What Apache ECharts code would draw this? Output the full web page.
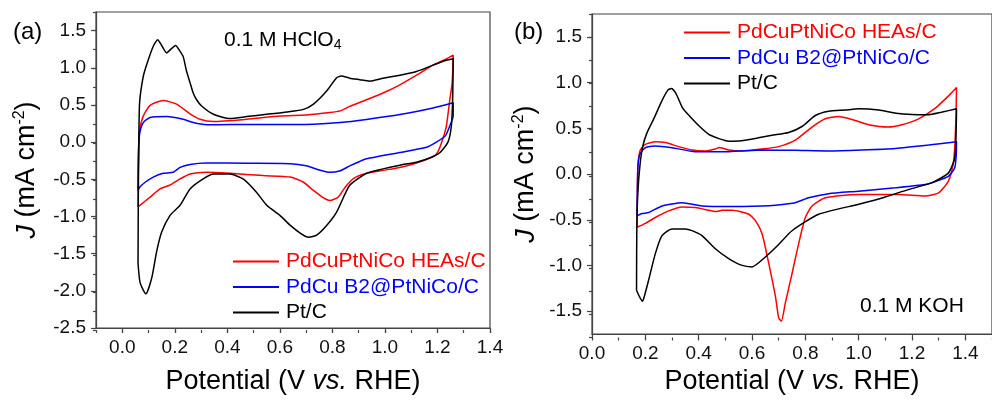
<!DOCTYPE html>
<html>
<head>
<meta charset="utf-8">
<script src="https://cdn.jsdelivr.net/npm/echarts@6/dist/echarts.min.js"></script>
<style>
html, body { margin: 0; padding: 0; background: #fff; }
#chart { width: 992px; height: 400px; }
</style>
</head>
<body>
<div id="chart"></div>
<script>
const seriesNames = ['PdCuPtNiCo HEAs/C', 'PdCu B2@PtNiCo/C', 'Pt/C'];

// (a) 0.1 M HClO4, [potential V, J mA cm-2]
const heaAcid = [
    [0.060, -0.873], [0.061, -0.4], [0.063, 0.0], [0.067, 0.174], [0.080, 0.35], [0.106, 0.495],
    [0.156, 0.56], [0.207, 0.51], [0.258, 0.38], [0.296, 0.307], [0.347, 0.277], [0.474, 0.307],
    [0.60, 0.35], [0.70, 0.365], [0.79, 0.397], [0.83, 0.42], [0.866, 0.48], [0.93, 0.57],
    [0.993, 0.66], [1.057, 0.77], [1.12, 0.90], [1.183, 1.035], [1.234, 1.12], [1.26, 1.17],
    [1.256, 0.80], [1.247, 0.57], [1.234, 0.22], [1.22, 0.04], [1.20, -0.14], [1.18, -0.20],
    [1.12, -0.28], [1.057, -0.34], [0.993, -0.38], [0.93, -0.42], [0.88, -0.49], [0.85, -0.6],
    [0.822, -0.74], [0.79, -0.785], [0.766, -0.75], [0.728, -0.65], [0.69, -0.54], [0.64, -0.47],
    [0.537, -0.45], [0.41, -0.42], [0.32, -0.405], [0.258, -0.428], [0.22, -0.495], [0.18, -0.58],
    [0.144, -0.63], [0.106, -0.74], [0.067, -0.85], [0.060, -0.873]
];
const b2Acid = [
    [0.060, -0.65], [0.061, -0.3], [0.0625, -0.05], [0.067, 0.13], [0.080, 0.263], [0.106, 0.33],
    [0.169, 0.343], [0.232, 0.307], [0.27, 0.263], [0.321, 0.235], [0.36, 0.235], [0.474, 0.237],
    [0.6, 0.237], [0.728, 0.24], [0.83, 0.263], [0.93, 0.305], [1.057, 0.37], [1.183, 0.46],
    [1.26, 0.53], [1.26, 0.35], [1.247, 0.22], [1.23, 0.084], [1.196, 0.0], [1.158, -0.07],
    [1.057, -0.14], [0.93, -0.225], [0.904, -0.26], [0.866, -0.32], [0.83, -0.384], [0.79, -0.405],
    [0.75, -0.374], [0.70, -0.317], [0.64, -0.29], [0.474, -0.285], [0.32, -0.28], [0.258, -0.30],
    [0.22, -0.34], [0.194, -0.405], [0.156, -0.42], [0.118, -0.47], [0.087, -0.54], [0.067, -0.605],
    [0.060, -0.65]
];
const ptAcid = [
    [0.060, -1.63], [0.061, -0.8], [0.063, 0.0], [0.066, 0.53], [0.080, 0.886], [0.095, 1.065],
    [0.118, 1.29], [0.135, 1.377], [0.150, 1.30], [0.169, 1.20], [0.185, 1.25], [0.203, 1.30],
    [0.220, 1.22], [0.232, 1.15], [0.245, 0.95], [0.258, 0.80], [0.27, 0.66], [0.283, 0.57],
    [0.302, 0.485], [0.347, 0.374], [0.41, 0.317], [0.474, 0.343], [0.55, 0.374], [0.626, 0.405],
    [0.69, 0.44], [0.728, 0.51], [0.778, 0.686], [0.816, 0.865], [0.834, 0.89], [0.866, 0.86],
    [0.904, 0.84], [0.942, 0.82], [0.993, 0.86], [1.057, 0.90], [1.12, 0.95], [1.183, 1.035],
    [1.234, 1.10], [1.26, 1.12], [1.258, 0.6], [1.253, 0.22], [1.24, 0.0], [1.21, -0.14],
    [1.18, -0.20], [1.12, -0.27], [1.057, -0.31], [0.993, -0.36], [0.93, -0.42], [0.866, -0.58],
    [0.816, -0.94], [0.778, -1.12], [0.74, -1.25], [0.71, -1.28], [0.68, -1.23], [0.64, -1.12],
    [0.60, -0.985], [0.55, -0.85], [0.51, -0.67], [0.46, -0.495], [0.41, -0.43], [0.347, -0.43],
    [0.308, -0.495], [0.258, -0.63], [0.22, -0.85], [0.182, -0.985], [0.15, -1.21], [0.131, -1.47],
    [0.112, -1.83], [0.09, -2.04], [0.08, -1.99], [0.067, -1.875], [0.060, -1.63]
];

// (b) 0.1 M KOH
const heaBase = [
    [0.169, -0.583], [0.170, -0.2], [0.1725, 0.10], [0.181, 0.263], [0.2, 0.324], [0.2375, 0.353],
    [0.275, 0.345], [0.325, 0.30], [0.375, 0.263], [0.425, 0.252], [0.4625, 0.273], [0.476, 0.29],
    [0.4875, 0.285], [0.5125, 0.263], [0.5625, 0.252], [0.6375, 0.273], [0.70, 0.30], [0.7625, 0.37],
    [0.825, 0.514], [0.875, 0.604], [0.925, 0.63], [0.975, 0.597], [1.0375, 0.54], [1.11, 0.515],
    [1.1625, 0.54], [1.225, 0.604], [1.2875, 0.72], [1.3375, 0.856], [1.367, 0.946], [1.365, 0.64],
    [1.36, 0.28], [1.354, 0.10], [1.336, -0.08], [1.30, -0.205], [1.249, -0.24], [1.149, -0.223],
    [1.0, -0.223], [0.875, -0.26], [0.825, -0.35], [0.80, -0.475], [0.775, -0.76], [0.75, -1.09],
    [0.725, -1.41], [0.71, -1.61], [0.70, -1.57], [0.688, -1.34], [0.663, -0.98], [0.638, -0.655],
    [0.613, -0.51], [0.588, -0.44], [0.526, -0.396], [0.488, -0.396], [0.464, -0.41], [0.4375, -0.396],
    [0.3875, -0.367], [0.3375, -0.36], [0.2875, -0.403], [0.2375, -0.475], [0.2, -0.54], [0.169, -0.583]
];
const b2Base = [
    [0.169, -0.457], [0.170, -0.2], [0.1725, 0.1], [0.181, 0.227], [0.2, 0.288], [0.2375, 0.306],
    [0.3, 0.288], [0.3875, 0.245], [0.5125, 0.245], [0.6375, 0.263], [0.7625, 0.259], [0.8875, 0.252],
    [1.0125, 0.263], [1.1375, 0.28], [1.2625, 0.317], [1.367, 0.353], [1.366, 0.21], [1.36, 0.065],
    [1.336, -0.025], [1.29, -0.08], [1.249, -0.115], [1.1375, -0.15], [1.0, -0.187], [0.8875, -0.215],
    [0.812, -0.26], [0.7625, -0.313], [0.688, -0.34], [0.6375, -0.349], [0.5125, -0.356], [0.4125, -0.349],
    [0.3375, -0.313], [0.2625, -0.349], [0.2125, -0.421], [0.1875, -0.432], [0.169, -0.457]
];
const ptBase = [
    [0.167, -1.27], [0.168, -0.6], [0.172, -0.2], [0.18, 0.1], [0.19, 0.3], [0.206, 0.45],
    [0.231, 0.6], [0.262, 0.8], [0.285, 0.92], [0.298, 0.936], [0.315, 0.88], [0.34, 0.72],
    [0.364, 0.64], [0.40, 0.53], [0.44, 0.43], [0.513, 0.36], [0.56, 0.365], [0.624, 0.396],
    [0.675, 0.424], [0.7375, 0.455], [0.7875, 0.52], [0.8375, 0.64], [0.8875, 0.687], [0.95, 0.70],
    [1.0, 0.713], [1.075, 0.70], [1.14, 0.665], [1.2, 0.65], [1.26, 0.648], [1.31, 0.676],
    [1.367, 0.713], [1.365, 0.4], [1.36, 0.17], [1.336, 0.01], [1.273, -0.097], [1.186, -0.17],
    [1.1, -0.25], [1.0, -0.33], [0.85, -0.44], [0.75, -0.62], [0.7, -0.77], [0.65, -0.907],
    [0.6, -1.015], [0.56, -0.996], [0.5125, -0.924], [0.4625, -0.817], [0.4125, -0.673], [0.375, -0.619],
    [0.35, -0.60], [0.3, -0.6], [0.2625, -0.673], [0.2375, -0.87], [0.2125, -1.158], [0.194, -1.36],
    [0.189, -1.39], [0.178, -1.34], [0.167, -1.27]
];

const font = '"Liberation Sans", Arial, sans-serif';
const colors = ['#ff0000', '#0000ff', '#000000'];
const chart = echarts.init(document.getElementById('chart'));

const gridA = { left: 96, top: 12, width: 394, height: 318 };
const gridB = { left: 592, top: 14, width: 401, height: 323.5 };

function mainAxis(gridIndex, opts, showMin, showMax) {
    return Object.assign({
        type: 'value',
        gridIndex: gridIndex,
        axisLine: { show: true, onZero: false, lineStyle: { color: '#444', width: 1.2 } },
        axisTick: { show: true, length: 5, lineStyle: { color: '#444', width: 1.2 } },
        axisLabel: {
            color: '#111', fontSize: 19, fontFamily: font, margin: 10,
            showMinLabel: showMin, showMaxLabel: showMax,
            formatter: v => v.toFixed(1)
        },
        splitLine: { show: false }
    }, opts);
}

function minorAxis(gridIndex, opts) {
    return Object.assign({
        type: 'value',
        gridIndex: gridIndex,
        axisLine: { show: false, onZero: false },
        axisTick: { show: true, length: 3, lineStyle: { color: '#444', width: 1.2 } },
        axisLabel: { show: false },
        splitLine: { show: false }
    }, opts);
}

const xNameStyle = {
    fontSize: 27, fontFamily: font, color: '#000',
    rich: { i: { fontSize: 27, fontFamily: font, fontStyle: 'italic', color: '#000' } }
};
const yNameStyle = {
    fontSize: 27, fontFamily: font, color: '#000', lineHeight: 30,
    rich: {
        i: { fontSize: 27, fontFamily: font, fontStyle: 'italic', color: '#000', lineHeight: 30 },
        s: { fontSize: 16, fontFamily: font, color: '#000', verticalAlign: 'top', lineHeight: 16 }
    }
};

function cvSeries(name, idx, data, axisIdx) {
    return {
        name: name,
        type: 'line',
        data: data,
        xAxisIndex: axisIdx,
        yAxisIndex: axisIdx,
        showSymbol: false,
        smooth: 0.2,
        lineStyle: { color: colors[idx], width: 1.5 },
        itemStyle: { color: colors[idx] }
    };
}

function legendFor(left, top) {
    return {
        orient: 'vertical',
        left: left,
        top: top,
        padding: 0,
        icon: 'rect',
        itemWidth: 46,
        itemHeight: 2,
        itemGap: 4.5,
        selectedMode: false,
        textStyle: { fontSize: 21, fontFamily: font, padding: [0, 0, 0, 2] },
        data: seriesNames.map((n, i) => ({ name: n, textStyle: { color: colors[i] } }))
    };
}

const option = {
    animation: false,
    backgroundColor: '#fff',
    grid: [
        Object.assign({ show: true, borderColor: '#444', borderWidth: 1.2 }, gridA),
        Object.assign({ show: true, borderColor: '#444', borderWidth: 1.2 }, gridB),
        Object.assign({}, gridA),
        Object.assign({}, gridB)
    ],
    xAxis: [
        mainAxis(0, {
            min: -0.1, max: 1.4, splitNumber: 7,
            name: 'Potential (V {i|vs.} RHE)', nameLocation: 'middle', nameGap: 40, nameTextStyle: xNameStyle
        }, false, true),
        mainAxis(1, {
            min: 0, max: 1.5, interval: 0.2,
            name: 'Potential (V {i|vs.} RHE)', nameLocation: 'middle', nameGap: 33, nameTextStyle: xNameStyle
        }, true, false),
        minorAxis(2, { min: -0.1, max: 1.4, interval: 0.1 }),
        minorAxis(3, { min: 0, max: 1.5, interval: 0.1 })
    ],
    yAxis: [
        mainAxis(0, {
            min: -2.5, max: 1.75, interval: 0.5,
            name: '{i|J} (mA cm{s|-2})', nameLocation: 'middle', nameGap: 54, nameTextStyle: yNameStyle
        }, true, false),
        mainAxis(1, {
            min: -1.75, max: 1.75, splitNumber: 7,
            name: '{i|J} (mA cm{s|-2})', nameLocation: 'middle', nameGap: 51, nameTextStyle: yNameStyle
        }, false, false),
        minorAxis(2, { min: -2.5, max: 1.75, interval: 0.25 }),
        minorAxis(3, { min: -1.75, max: 1.75, interval: 0.25 })
    ],
    legend: [legendFor(233, 251), legendFor(684, 22)],
    graphic: [
        { type: 'text', left: 13, top: 20, style: { text: '(a)', fontSize: 24, fontFamily: font, fill: '#000' } },
        { type: 'text', left: 514, top: 20, style: { text: '(b)', fontSize: 24, fontFamily: font, fill: '#000' } },
        {
            type: 'text', left: 224, top: 30,
            style: {
                text: '{m|0.1 M HClO}{u|4}',
                rich: {
                    m: { fontSize: 21, fontFamily: font, fill: '#000', lineHeight: 24 },
                    u: { fontSize: 14, fontFamily: font, fill: '#000', verticalAlign: 'bottom', lineHeight: 14 }
                }
            }
        },
        { type: 'text', left: 860, top: 296, style: { text: '0.1 M KOH', fontSize: 21, fontFamily: font, fill: '#000' } }
    ],
    series: [
        cvSeries(seriesNames[0], 0, heaAcid, 0),
        cvSeries(seriesNames[1], 1, b2Acid, 0),
        cvSeries(seriesNames[2], 2, ptAcid, 0),
        cvSeries(seriesNames[0], 0, heaBase, 1),
        cvSeries(seriesNames[1], 1, b2Base, 1),
        cvSeries(seriesNames[2], 2, ptBase, 1)
    ]
};

chart.setOption(option);
</script>
</body>
</html>
